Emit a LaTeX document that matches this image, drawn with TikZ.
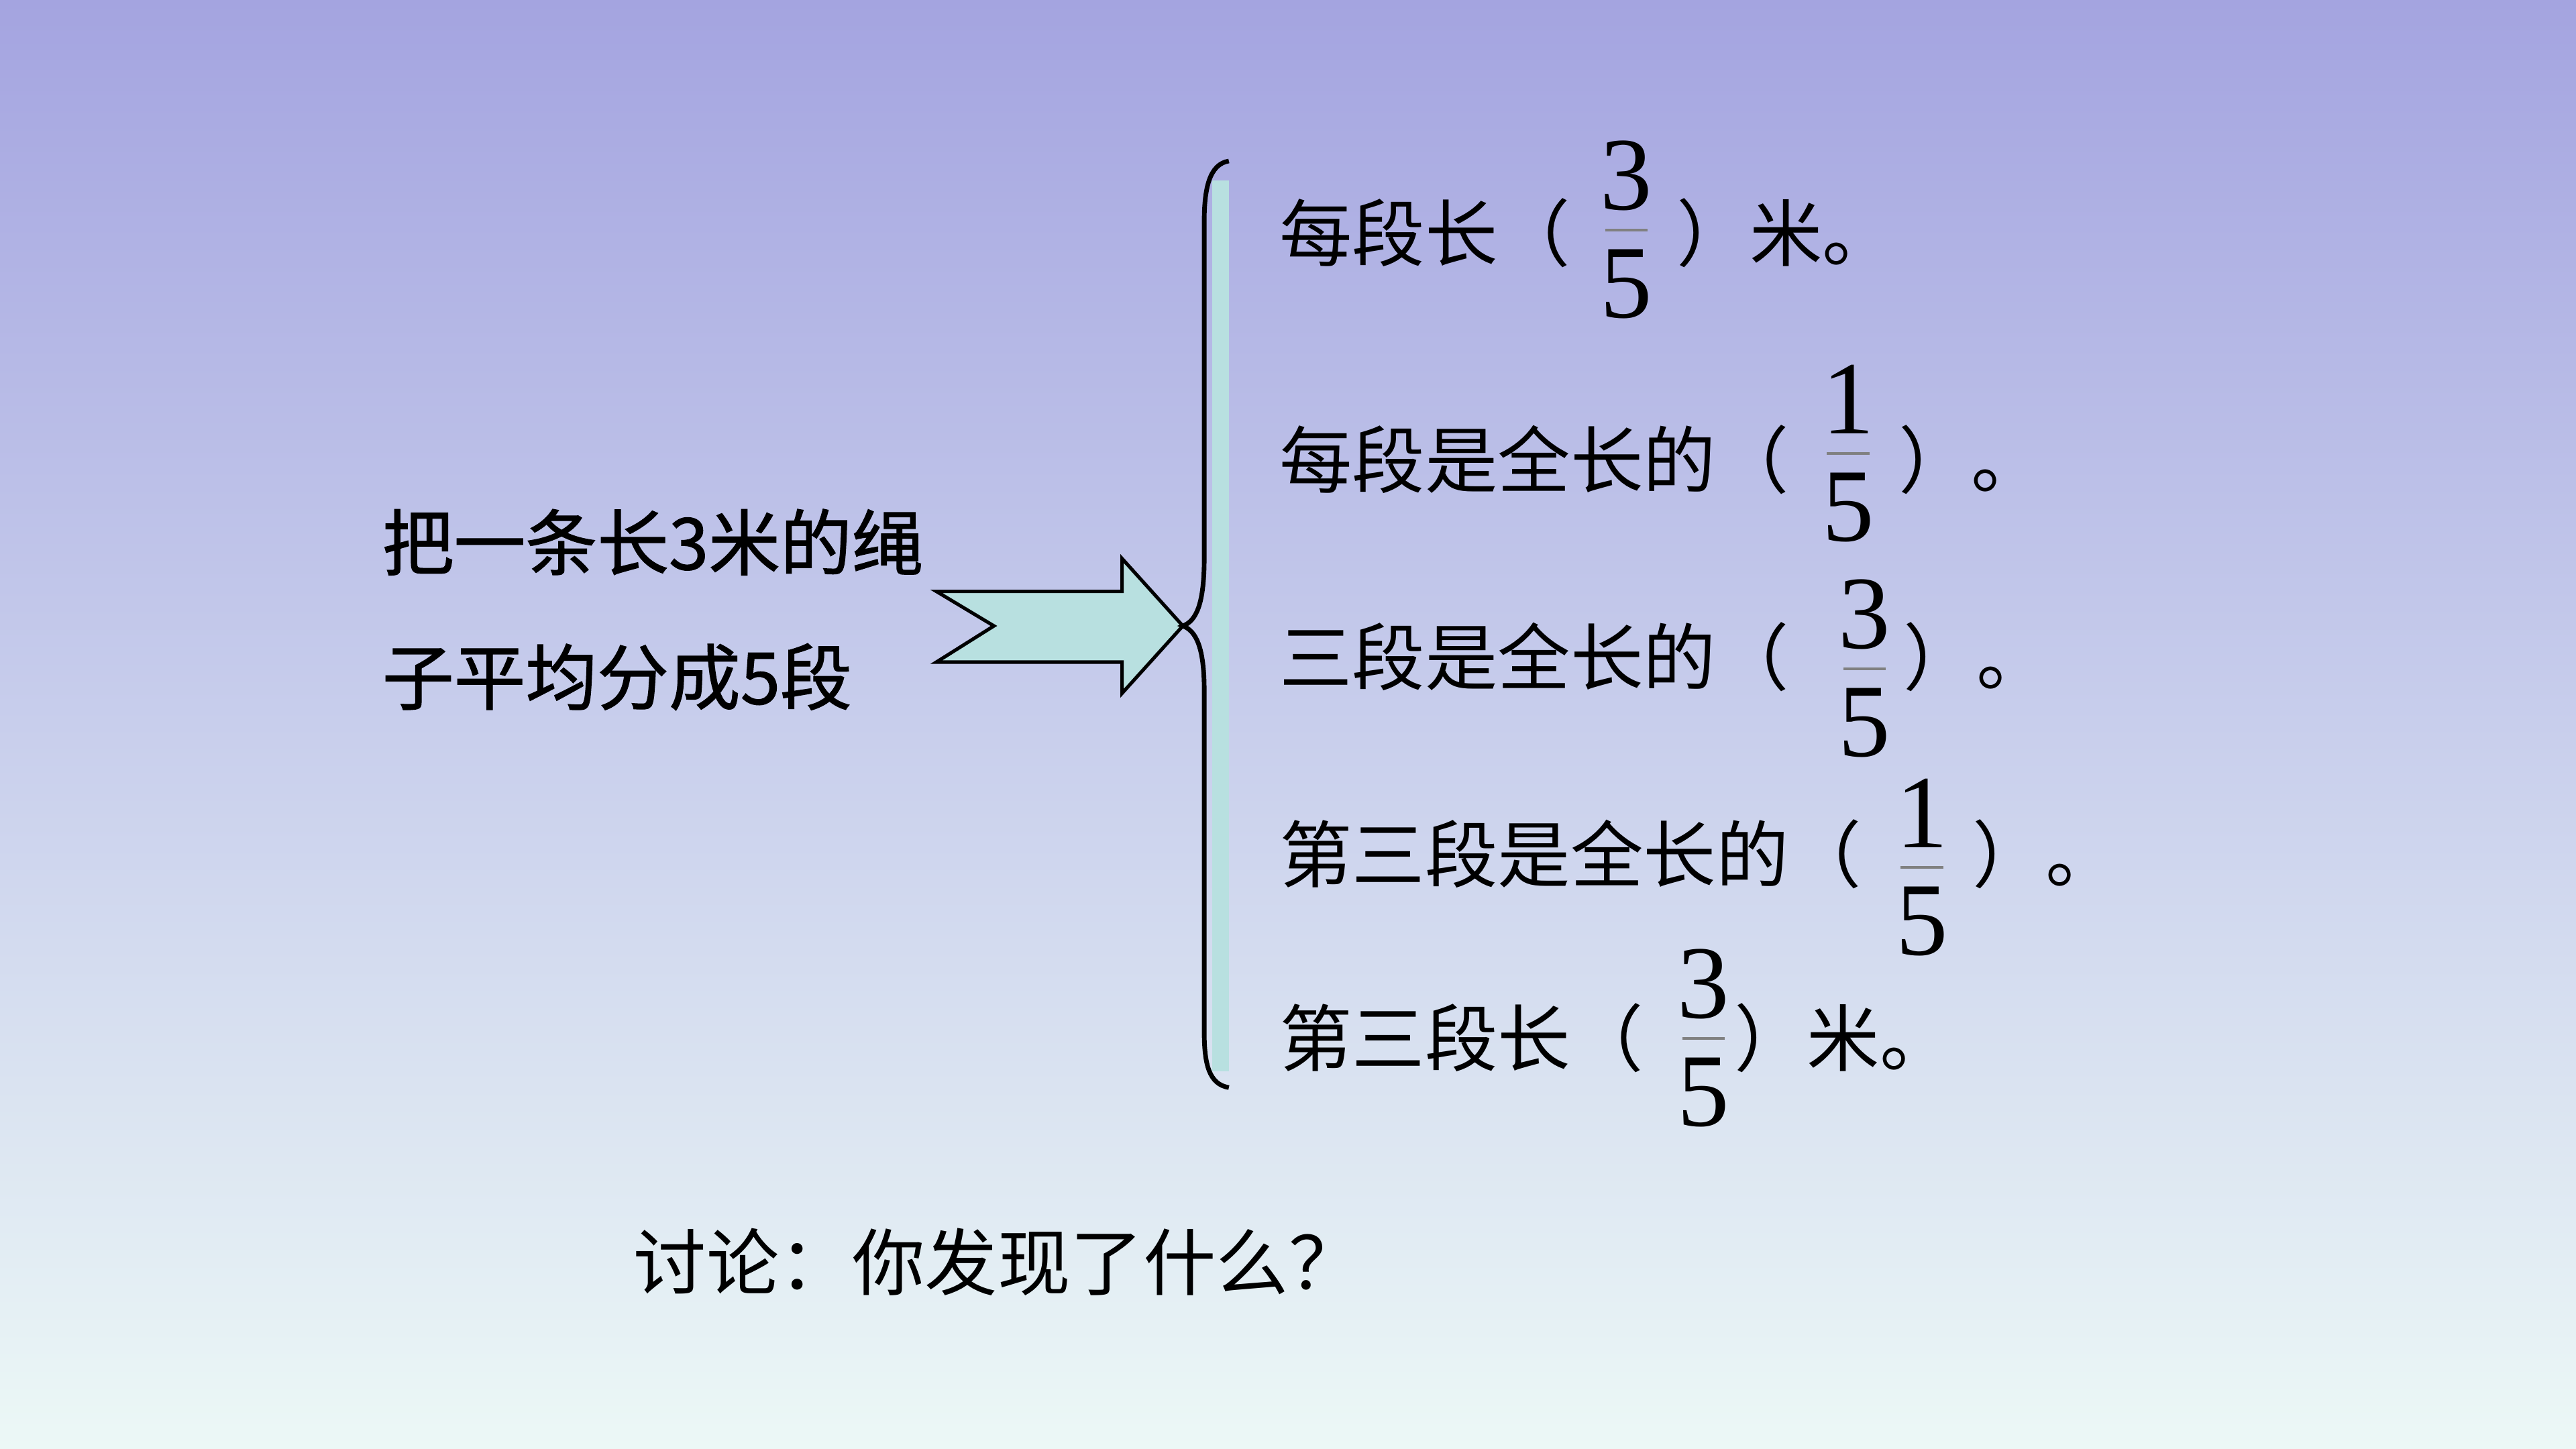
\documentclass[tikz,border=0pt]{standalone}
\usepackage{fontspec}
\newfontfamily\cjk{Noto Sans CJK SC}
\newfontfamily\cjkb[FakeBold=1.2]{Noto Sans CJK SC}
\newfontfamily\tms{Liberation Serif}
\definecolor{topc}{RGB}{164,164,224}
\definecolor{midc}{RGB}{200,206,236}
\definecolor{botc}{RGB}{236,248,246}
\definecolor{teal}{RGB}{184,224,224}
\begin{document}
\begin{tikzpicture}[x=0.01cm,y=-0.01cm,
  txt/.style={anchor=west,inner sep=0pt,font=\cjk\fontsize{12.6}{15}\selectfont},
  lt/.style={anchor=west,inner sep=0pt,font=\cjkb\fontsize{12.4}{15}\selectfont},
  num/.style={inner sep=0pt,font=\tms\fontsize{18}{20}\selectfont}]
\useasboundingbox (0,0) rectangle (1568,882);
\shade[top color=topc,bottom color=midc] (0,0) rectangle (1568,441);
\shade[top color=midc,bottom color=botc] (0,440) rectangle (1568,882);
% left text
\node[lt] (l1) at (232,330) {把一条长3米的绳};
\node[lt] (l2) at (232,412) {子平均分成5段};
% arrow
\draw[fill=teal,line width=0.6pt] (570,360) -- (683,360) -- (683,340) -- (720,381) -- (683,422) -- (683,403) -- (570,403) -- (605,381) -- cycle;
% brace
\fill[teal] (738,110) rectangle (748,652);
\draw[line width=0.8pt] (748,98) .. controls (736,100) and (733,115) .. (733,135) -- (733,340) .. controls (733,368) and (728,378) .. (720,381) .. controls (728,384) and (733,394) .. (733,420) -- (733,628) .. controls (733,648) and (736,660) .. (748,662);
% lines
\newcommand{\myfrac}[4]{%
  \node[num] (#1n) at (#2,#3-33) {#4};
  \node[num] (#1d) at (#2,#3+33) {5};
  \draw[gray,line width=0.5pt] (#2-13,#3) -- (#2+13,#3);}
\node[txt] (a1) at (778,142) {每段长（};
\myfrac{f1}{990}{140}{3}
\node[txt] (b1) at (1020,142) {）米。};
\node[txt] (a2) at (778,280) {每段是全长的（};
\myfrac{f2}{1125}{276}{1}
\node[txt] (b2) at (1155,280) {）。};
\node[txt] (a3) at (778,400) {三段是全长的（};
\myfrac{f3}{1135}{407}{3}
\node[txt] (b3) at (1158,400) {）。};
\node[txt] (a4) at (778,520) {第三段是全长的（};
\myfrac{f4}{1170}{528}{1}
\node[txt] (b4) at (1200,520) {）。};
\node[txt] (a5) at (778,632) {第三段长（};
\myfrac{f5}{1037}{632}{3}
\node[txt] (b5) at (1055,632) {）米。};
\node[txt] (q) at (385,768) {讨论：你发现了什么？};
\end{tikzpicture}
\end{document}
